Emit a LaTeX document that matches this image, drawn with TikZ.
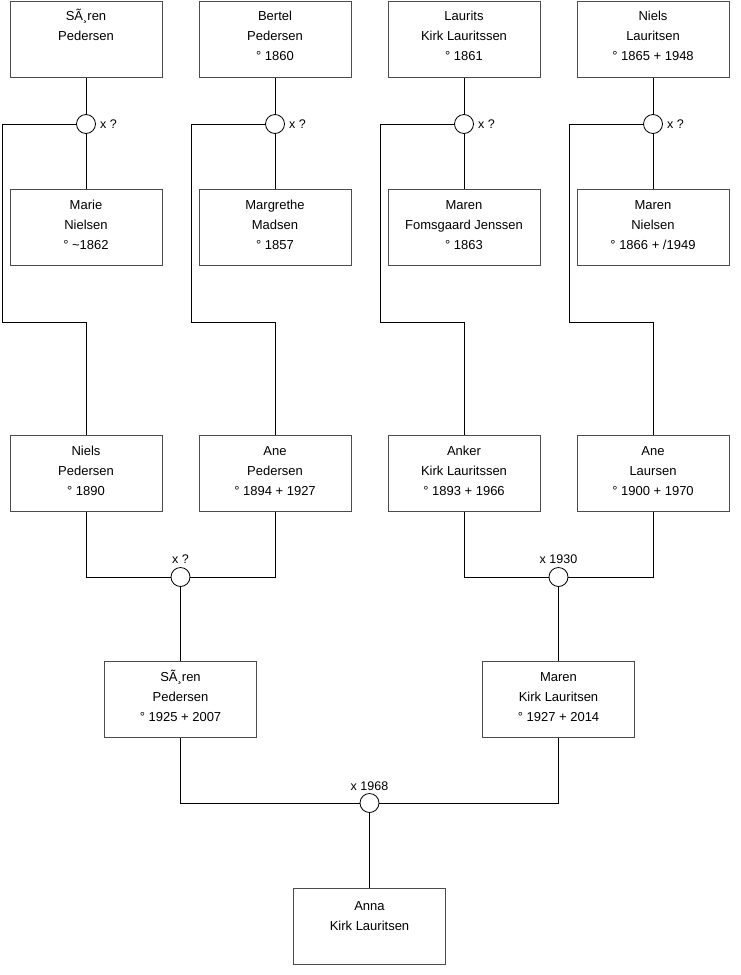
\documentclass[tikz,border=0pt]{standalone}
\usepackage{fontspec}
\setmainfont{Liberation Sans}
\begin{document}
\begin{tikzpicture}[x=1pt,y=-1pt,
 box/.style={draw=black!70, line width=1pt, minimum width=152pt, minimum height=76pt, inner sep=0pt, anchor=north},
 txt/.style={anchor=base, inner sep=0pt, font=\fontsize{13}{20}\selectfont},
 ring/.style={circle, draw=black, fill=white, line width=0.8pt, minimum size=19pt, inner sep=0pt},
 wire/.style={line width=1pt, draw=black},
 lbl/.style={font=\fontsize{12.5}{15}\selectfont, inner sep=0pt}]
\useasboundingbox (0,0) rectangle (740,975);
\newcommand\personbox[5]{%
  \node[box] (#1) at (#2,#3) {};
  \node[txt] (#1t) at (#2,#3+#4) {\begin{tabular}[t]{@{}c@{}}#5\end{tabular}};}
% row 1
\personbox{a1}{86}{0.5}{20}{SÃ¸ren\\Pedersen}
\personbox{a2}{275}{0.5}{20}{Bertel\\Pedersen\\° 1860}
\personbox{a3}{464}{0.5}{20}{Laurits\\Kirk Lauritssen\\° 1861}
\personbox{a4}{653}{0.5}{20}{Niels\\Lauritsen\\° 1865 + 1948}
% row 2
\personbox{b1}{86}{189}{20}{Marie\\Nielsen\\° \textasciitilde1862}
\personbox{b2}{275}{189}{20}{Margrethe\\Madsen\\° 1857}
\personbox{b3}{464}{189}{20}{Maren\\Fomsgaard Jenssen\\° 1863}
\personbox{b4}{653}{189}{20}{Maren\\Nielsen\\° 1866 + /1949}
% row 3
\personbox{n1}{86}{435}{20}{Niels\\Pedersen\\° 1890}
\personbox{n2}{275}{435}{20}{Ane\\Pedersen\\° 1894 + 1927}
\personbox{n3}{464}{435}{20}{Anker\\Kirk Lauritssen\\° 1893 + 1966}
\personbox{n4}{653}{435}{20}{Ane\\Laursen\\° 1900 + 1970}
% row 4
\personbox{s1}{180.5}{661}{20}{SÃ¸ren\\Pedersen\\° 1925 + 2007}
\personbox{s2}{558.5}{661}{20}{Maren\\Kirk Lauritsen\\° 1927 + 2014}
% row 5
\personbox{anna}{369.5}{888}{22}{Anna\\Kirk Lauritsen}
% marriage circles
\node[ring] (c1) at (86,124) {};
\node[ring] (c2) at (275,124) {};
\node[ring] (c3) at (464,124) {};
\node[ring] (c4) at (653,124) {};
\node[ring] (c5) at (180.5,577) {};
\node[ring] (c6) at (558.5,577) {};
\node[ring] (c7) at (369.5,803) {};
% labels
\node[lbl, anchor=west] (l1) at (100,124) {x ?};
\node[lbl, anchor=west] (l2) at (289,124) {x ?};
\node[lbl, anchor=west] (l3) at (478,124) {x ?};
\node[lbl, anchor=west] (l4) at (667,124) {x ?};
\node[lbl, anchor=base] (l5) at (180.5,563.5) {x ?};
\node[lbl, anchor=base] (l6) at (558.5,563.5) {x 1930};
\node[lbl, anchor=base] (l7) at (369.5,790) {x 1968};
% connectors
\draw[wire] (a1) -- (c1);
\draw[wire] (a2) -- (c2);
\draw[wire] (a3) -- (c3);
\draw[wire] (a4) -- (c4);
\draw[wire] (c1) -- (b1);
\draw[wire] (c2) -- (b2);
\draw[wire] (c3) -- (b3);
\draw[wire] (c4) -- (b4);
\draw[wire] (c1.west) -| (2,322) -| (n1.north);
\draw[wire] (c2.west) -| (191,322) -| (n2.north);
\draw[wire] (c3.west) -| (380,322) -| (n3.north);
\draw[wire] (c4.west) -| (569,322) -| (n4.north);
\draw[wire] (n1.south) |- (c5.west);
\draw[wire] (n2.south) |- (c5.east);
\draw[wire] (n3.south) |- (c6.west);
\draw[wire] (n4.south) |- (c6.east);
\draw[wire] (c5) -- (s1);
\draw[wire] (c6) -- (s2);
\draw[wire] (s1.south) |- (c7.west);
\draw[wire] (s2.south) |- (c7.east);
\draw[wire] (c7) -- (anna);
\end{tikzpicture}
\end{document}
